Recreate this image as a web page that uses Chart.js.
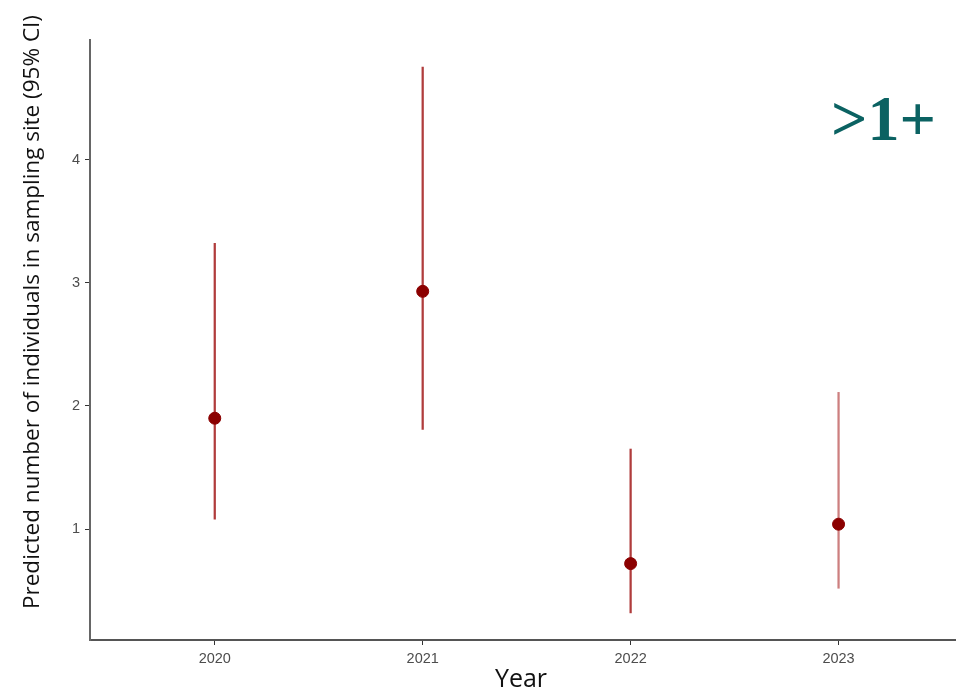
<!DOCTYPE html>
<html>
<head>
<meta charset="utf-8">
<script src="https://cdn.jsdelivr.net/npm/chart.js@4.4.0/dist/chart.umd.min.js"></script>
<style>
  body { margin: 0; background: #fff; overflow: hidden; }
</style>
</head>
<body>
<canvas id="myChart" width="956" height="697"></canvas>
<script>
// values
var years = ['2020', '2021', '2022', '2023'];
var predicted = [1.90, 2.93, 0.72, 1.04];
var lower = [1.08, 1.81, 0.32, 0.52];
var upper = [3.32, 4.75, 1.65, 2.11];
var yTicks = [1, 2, 3, 4];

var barColors = ['#b03c3c', '#b03c3c', '#b03c3c', '#cd7f7f'];

// text outside the plot area
var textPlugin = {
  id: 'texts',
  afterDraw: function(chart) {
    var c = chart.ctx;
    c.save();
    c.fillStyle = '#111';
    c.textAlign = 'center';
    c.textBaseline = 'middle';
    c.font = '25px "Open Sans"';
    c.fillText('Year', 521, 680);
    c.translate(33, 312);
    c.rotate(-Math.PI / 2);
    c.font = '22.5px "Open Sans"';
    c.fillText('Predicted number of individuals in sampling site (95% CI)', 0, 0);
    c.restore();

    c.save();
    c.fillStyle = '#0b6262';
    c.textBaseline = 'alphabetic';
    c.textAlign = 'left';
    c.font = 'bold 64px "Liberation Serif"';
    c.fillText('>1+', 831, 140);
    c.restore();
  }
};

var ctx = document.getElementById('myChart');
var grafica = new Chart(ctx, {
  data: {
    datasets: [{
      type: 'scatter',
      data: years.map(function(y, i) { return {x: i, y: predicted[i]}; }),
      backgroundColor: '#8b0000',
      borderColor: '#8b0000',
      pointRadius: 6,
      order: 0
    }, {
      type: 'bar',
      data: years.map(function(y, i) { return {x: i, y: [lower[i], upper[i]]}; }),
      backgroundColor: barColors,
      borderWidth: 0,
      barThickness: 1.6,
      order: 1
    }]
  },
  options: {
    responsive: false,
    animation: false,
    layout: { autoPadding: false, padding: { top: 40, right: 1, left: 0, bottom: 0 } },
    plugins: { legend: { display: false }, tooltip: { enabled: false } },
    scales: {
      x: {
        type: 'linear',
        min: -0.6,
        max: 3.56,
        offset: false,
        afterBuildTicks: function(s) { s.ticks = years.map(function(y, i) { return {value: i}; }); },
        afterFit: function(s) { s.height = 57; },
        ticks: {
          callback: function(v) { return years[v]; },
          color: '#4d4d4d',
          font: { family: 'Liberation Sans', size: 14.5 },
          padding: 5,
          maxRotation: 0
        },
        grid: { drawOnChartArea: false, offset: false, tickLength: 5, color: '#333', lineWidth: 1 },
        border: { color: '#555', width: 2 }
      },
      y: {
        type: 'linear',
        min: 0.1,
        max: 4.97,
        afterBuildTicks: function(s) { s.ticks = yTicks.map(function(v) { return {value: v}; }); },
        afterFit: function(s) { s.width = 90; },
        ticks: {
          color: '#4d4d4d',
          font: { family: 'Liberation Sans', size: 14.5 },
          padding: 5
        },
        grid: { drawOnChartArea: false, tickLength: 5, color: '#333', lineWidth: 1 },
        border: { color: '#666', width: 2 }
      }
    }
  },
  plugins: [textPlugin]
});
</script>
</body>
</html>
